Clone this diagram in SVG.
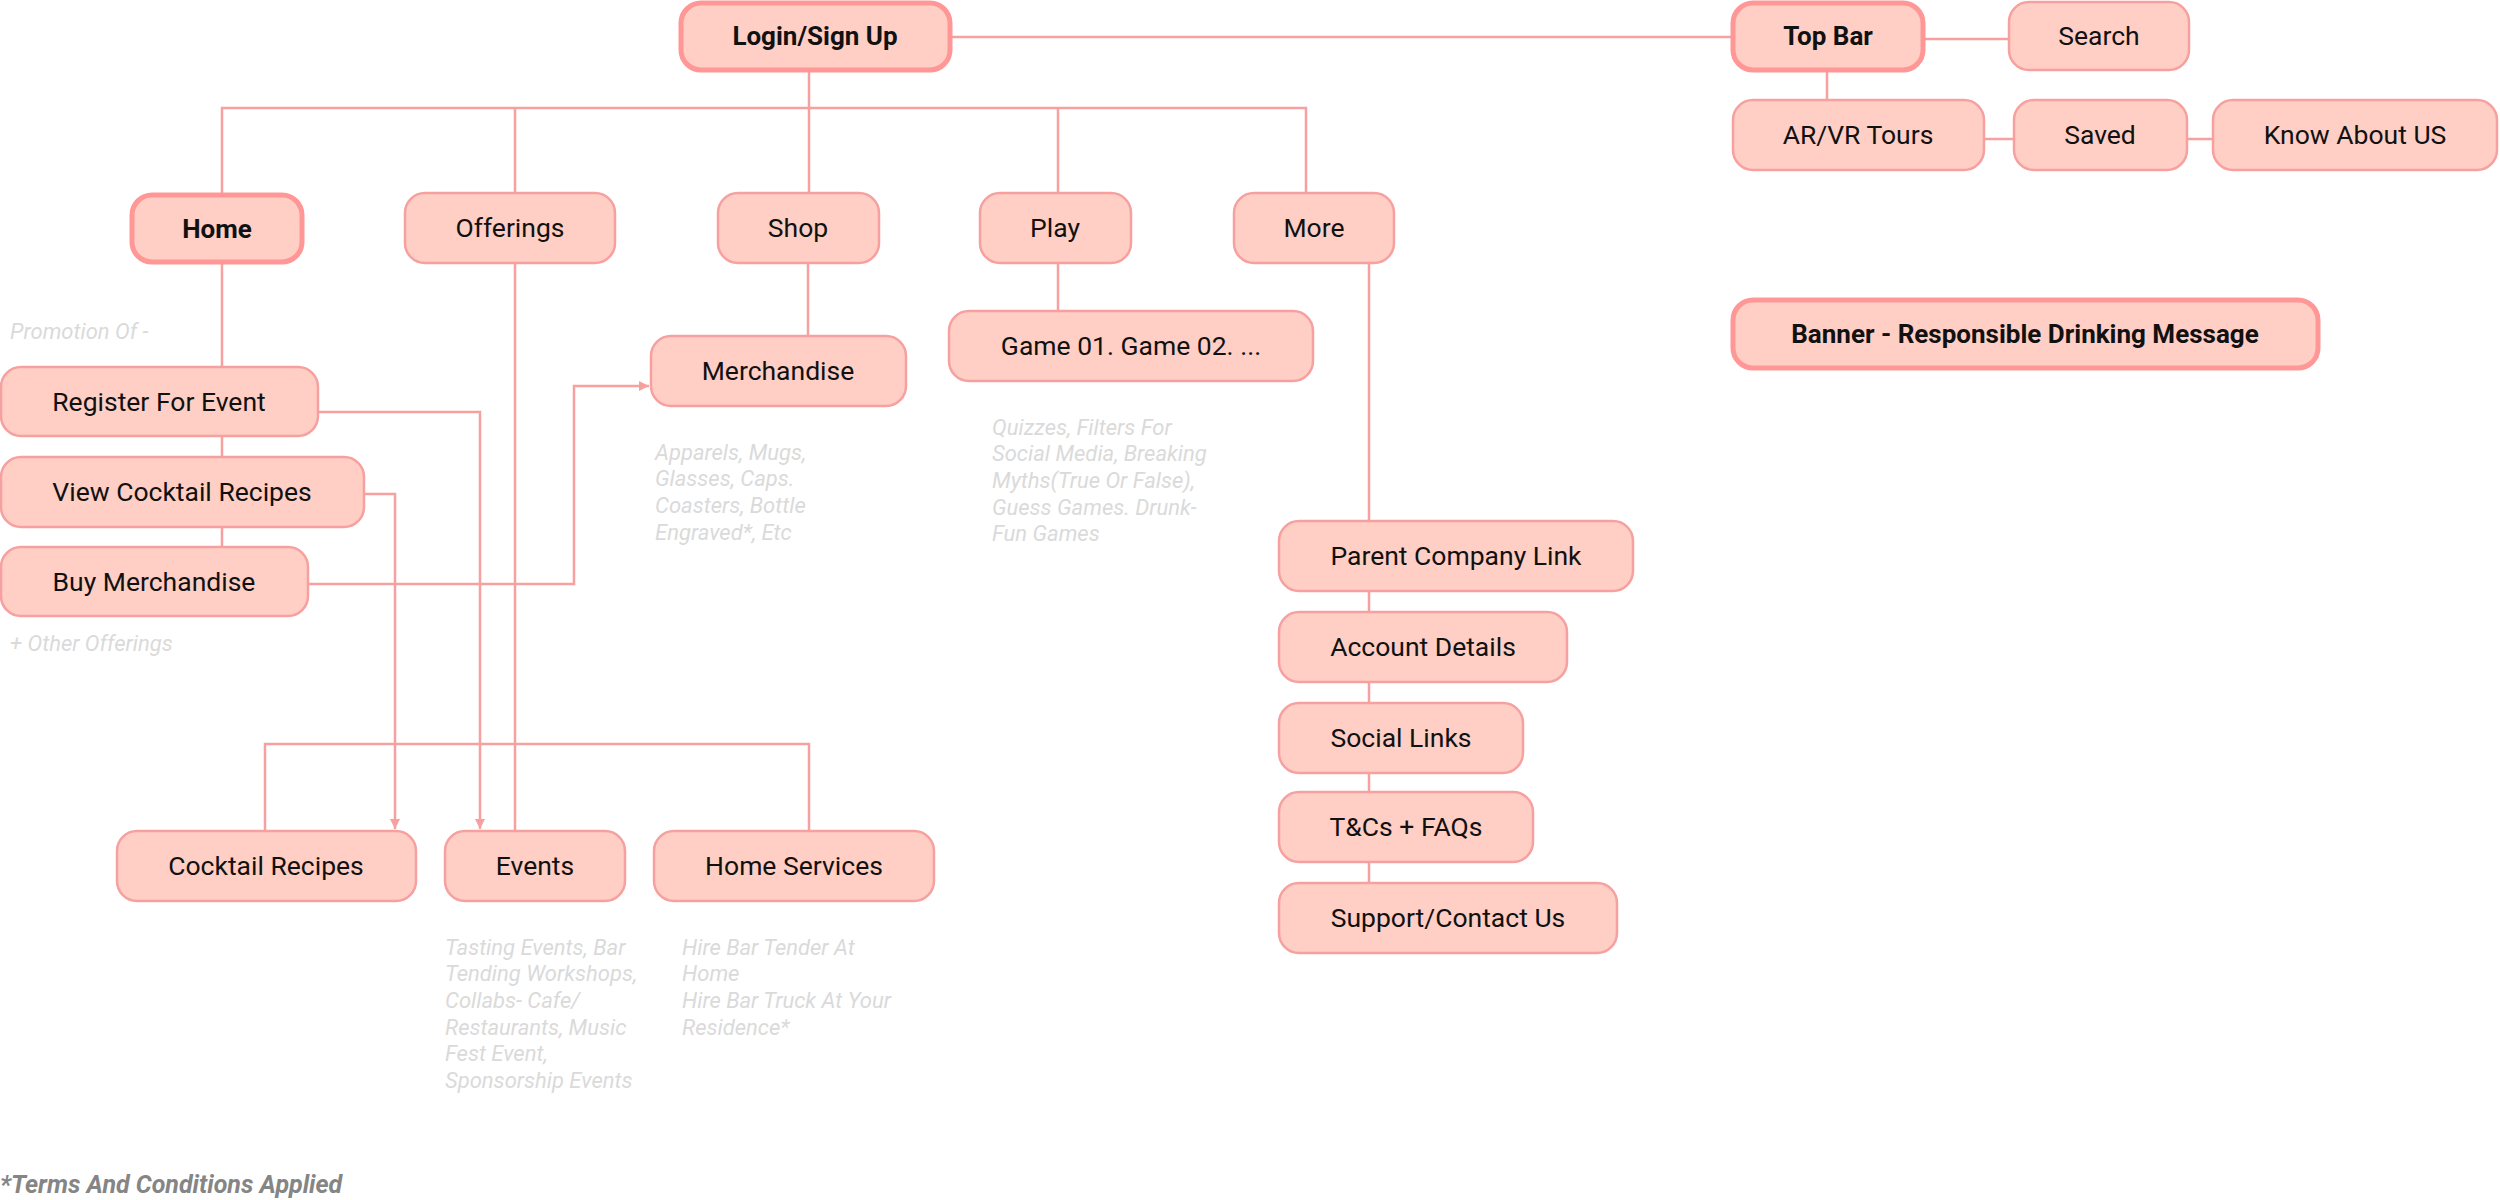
<svg xmlns="http://www.w3.org/2000/svg" width="2500" height="1200" viewBox="0 0 2500 1200">
<defs>
<style>
.n rect{fill:#FFCEC4;stroke:#F7A0A0;stroke-width:2.5}
.b rect{fill:#FFCEC4;stroke:#FF9797;stroke-width:5}
.n text,.b text{font-family:Roboto,"Liberation Sans",sans-serif;font-size:26.5px;fill:#111;text-anchor:middle}
.b text{font-weight:bold;font-size:26px}
.c path{fill:none;stroke:#F7A0A0;stroke-width:2.5}
.note{font-family:Roboto,"Liberation Sans",sans-serif;font-size:22px;font-style:italic;fill:#DADADA}
.terms{font-family:Roboto,"Liberation Sans",sans-serif;font-size:25px;font-style:italic;font-weight:bold;fill:#858585}
</style>
<marker id="ah" markerUnits="userSpaceOnUse" markerWidth="12" markerHeight="12" refX="10" refY="5" orient="auto">
<path d="M0,0 L10,5 L0,10 Z" fill="#F7A0A0"/>
</marker>
</defs>
<rect width="2500" height="1200" fill="#fff"/>
<g class="c" id="connectors">
<path d="M950,37 H1733"/>
<path d="M1923,39 H2009"/>
<path d="M1827,70 V100"/>
<path d="M1984,139 H2014"/>
<path d="M2187,139 H2213"/>
<path d="M809,72 V193"/>
<path d="M222,194 V108 H1306 V193"/>
<path d="M515,108 V193"/>
<path d="M1058,108 V193"/>
<path d="M222,262 V367 M222,436 V457 M222,527 V547"/>
<path d="M515,263 V831"/>
<path d="M808,263 V336"/>
<path d="M1058,263 V311"/>
<path d="M1369,263 V521 M1369,591 V612 M1369,682 V703 M1369,773 V792 M1369,862 V883"/>
<path d="M318,412 H480 V829" marker-end="url(#ah)"/>
<path d="M364,494 H395 V829" marker-end="url(#ah)"/>
<path d="M308,584 H574 V386 H649" marker-end="url(#ah)"/>
<path d="M265,831 V744 H809 V831"/>
</g>
<g class="b" id="login"><rect x="681" y="3" width="269" height="67" rx="20"/><text x="815" y="45">Login/Sign Up</text></g>
<g class="b" id="topbar"><rect x="1733" y="3" width="190" height="67" rx="20"/><text x="1828" y="45">Top Bar</text></g>
<g class="n" id="search"><rect x="2009" y="2" width="180" height="68" rx="20"/><text x="2099" y="45">Search</text></g>
<g class="n" id="arvr"><rect x="1733" y="100" width="251" height="70" rx="20"/><text x="1858" y="144">AR/VR Tours</text></g>
<g class="n" id="saved"><rect x="2014" y="100" width="173" height="70" rx="20"/><text x="2100" y="144">Saved</text></g>
<g class="n" id="know"><rect x="2213" y="100" width="284" height="70" rx="20"/><text x="2355" y="144">Know About US</text></g>
<g class="b" id="banner"><rect x="1733" y="300" width="585" height="68" rx="20"/><text x="2025" y="343">Banner - Responsible Drinking Message</text></g>
<g class="b" id="home"><rect x="132" y="195" width="170" height="67" rx="20"/><text x="217" y="238">Home</text></g>
<g class="n" id="offerings"><rect x="405" y="193" width="210" height="70" rx="20"/><text x="510" y="237">Offerings</text></g>
<g class="n" id="shop"><rect x="718" y="193" width="161" height="70" rx="20"/><text x="798" y="237">Shop</text></g>
<g class="n" id="play"><rect x="980" y="193" width="151" height="70" rx="20"/><text x="1055" y="237">Play</text></g>
<g class="n" id="more"><rect x="1234" y="193" width="160" height="70" rx="20"/><text x="1314" y="237">More</text></g>
<g class="n" id="merch"><rect x="651" y="336" width="255" height="70" rx="20"/><text x="778" y="380">Merchandise</text></g>
<g class="n" id="games"><rect x="949" y="311" width="364" height="70" rx="20"/><text x="1131" y="355">Game 01. Game 02. ...</text></g>
<g class="n" id="register"><rect x="1" y="367" width="317" height="69" rx="20"/><text x="159" y="411">Register For Event</text></g>
<g class="n" id="viewcocktail"><rect x="1" y="457" width="363" height="70" rx="20"/><text x="182" y="501">View Cocktail Recipes</text></g>
<g class="n" id="buymerch"><rect x="1" y="547" width="307" height="69" rx="20"/><text x="154" y="591">Buy Merchandise</text></g>
<g class="n" id="cocktail"><rect x="117" y="831" width="299" height="70" rx="20"/><text x="266" y="875">Cocktail Recipes</text></g>
<g class="n" id="events"><rect x="445" y="831" width="180" height="70" rx="20"/><text x="535" y="875">Events</text></g>
<g class="n" id="homeservices"><rect x="654" y="831" width="280" height="70" rx="20"/><text x="794" y="875">Home Services</text></g>
<g class="n" id="parent"><rect x="1279" y="521" width="354" height="70" rx="20"/><text x="1456" y="565">Parent Company Link</text></g>
<g class="n" id="account"><rect x="1279" y="612" width="288" height="70" rx="20"/><text x="1423" y="656">Account Details</text></g>
<g class="n" id="social"><rect x="1279" y="703" width="244" height="70" rx="20"/><text x="1401" y="747">Social Links</text></g>
<g class="n" id="tcs"><rect x="1279" y="792" width="254" height="70" rx="20"/><text x="1406" y="836">T&amp;Cs + FAQs</text></g>
<g class="n" id="support"><rect x="1279" y="883" width="338" height="70" rx="20"/><text x="1448" y="927">Support/Contact Us</text></g>
<g id="notes">
<text class="note" x="10" y="339">Promotion Of -</text>
<text class="note" x="10" y="651">+ Other Offerings</text>
<text class="note" x="655"><tspan x="655" y="460">Apparels, Mugs,</tspan><tspan x="655" y="486">Glasses, Caps.</tspan><tspan x="655" y="513">Coasters, Bottle</tspan><tspan x="655" y="540">Engraved*, Etc</tspan></text>
<text class="note" x="992"><tspan x="992" y="435">Quizzes, Filters For</tspan><tspan x="992" y="461">Social Media, Breaking</tspan><tspan x="992" y="488">Myths(True Or False),</tspan><tspan x="992" y="515">Guess Games. Drunk-</tspan><tspan x="992" y="541">Fun Games</tspan></text>
<text class="note" x="445"><tspan x="445" y="955">Tasting Events, Bar</tspan><tspan x="445" y="981">Tending Workshops,</tspan><tspan x="445" y="1008">Collabs- Cafe/</tspan><tspan x="445" y="1035">Restaurants, Music</tspan><tspan x="445" y="1061">Fest Event,</tspan><tspan x="445" y="1088">Sponsorship Events</tspan></text>
<text class="note" x="682"><tspan x="682" y="955">Hire Bar Tender At</tspan><tspan x="682" y="981">Home</tspan><tspan x="682" y="1008">Hire Bar Truck At Your</tspan><tspan x="682" y="1035">Residence*</tspan></text>
<text class="terms" x="0" y="1193">*Terms And Conditions Applied</text>
</g>
</svg>
